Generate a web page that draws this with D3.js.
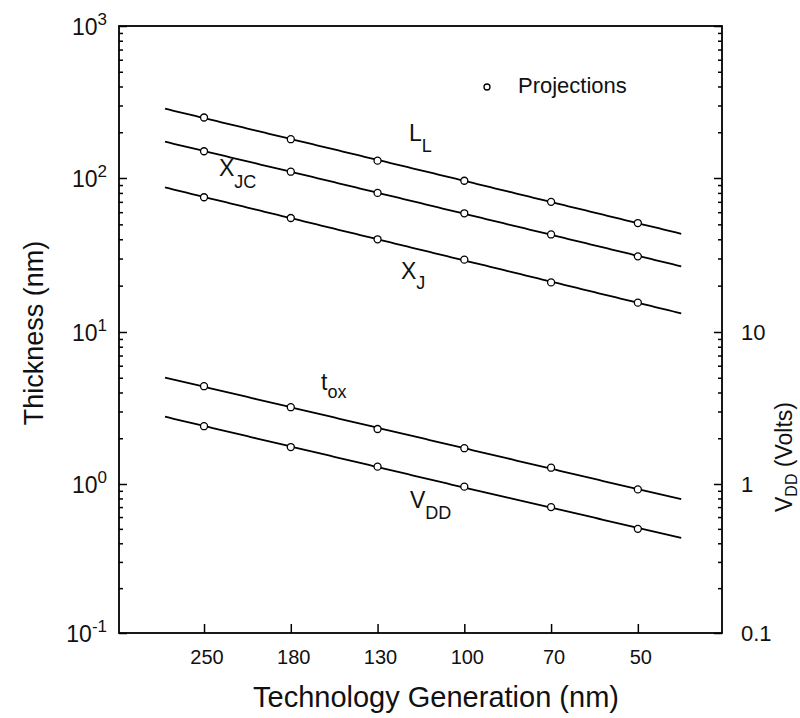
<!DOCTYPE html>
<html><head><meta charset="utf-8">
<script src="https://cdn.jsdelivr.net/npm/d3@7"></script>
<style>body{margin:0;background:#fff} svg{display:block;font-family:"Liberation Sans",Arial,sans-serif}</style>
</head><body><svg id="c" width="800" height="718"></svg>
<script>
// ---- data ----
const generations = ["250","180","130","100","70","50"];
const L_L  = [250,180,130,96,70,51];
const X_JC = [150,110,80,59,43,31];
const X_J  = [75,55,40,29.5,21,15.5];
const t_ox = [4.4,3.2,2.3,1.72,1.28,0.92];
const V_DD = [2.4,1.75,1.3,0.96,0.7,0.5];
const leftDecades = [0.1,1,10,100,1000];
const leftExponents = ["-1","0","1","2","3"];
const rightTickValues = [0.1,1,10];
const rightTickLabels = ["0.1","1","10"];
const legendLabel = "Projections";
const xTitle = "Technology Generation (nm)";
const yTitle = "Thickness (nm)";

// ---- layout ----
const svg = d3.select("#c");
const L=119, R=722, T=26, B=633;
const x = d3.scaleLinear().domain([-0.98,5.97]).range([L,R]);
const y = d3.scaleLog().domain(leftDecades).range([633,484,332,178,26]);

const allTicks = d3.scaleLog().domain([0.1,1000]).ticks();
const minor = allTicks.filter(v => !leftDecades.some(d => Math.abs(d - v) < 1e-9));

function ticks(g, axis){ g.call(axis); g.select(".domain").remove(); g.selectAll(".tick line").attr("stroke","#000").attr("stroke-width",1.5); }

// left axis
ticks(svg.append("g").attr("transform",`translate(${L},0)`), d3.axisLeft(y).tickValues(minor).tickSize(-4).tickFormat(""));
ticks(svg.append("g").attr("transform",`translate(${L},0)`), d3.axisLeft(y).tickValues(leftDecades).tickSize(-8).tickFormat(""));
// right axis
ticks(svg.append("g").attr("transform",`translate(${R},0)`), d3.axisRight(y).tickValues(minor).tickSize(-4).tickFormat(""));
ticks(svg.append("g").attr("transform",`translate(${R},0)`), d3.axisRight(y).tickValues(leftDecades).tickSize(-8).tickFormat(""));
// bottom axis
ticks(svg.append("g").attr("transform",`translate(0,${B})`), d3.axisBottom(x).tickValues(d3.range(generations.length)).tickSize(-9).tickFormat(""));

// frame
svg.append("rect").attr("x",L).attr("y",T).attr("width",R-L).attr("height",B-T)
  .attr("fill","none").attr("stroke","#000").attr("stroke-width",1.8);

// left tick labels
leftDecades.forEach((d,i)=>{
  const t = svg.append("text").attr("x",107).attr("y",y(d)+9).attr("text-anchor","end").attr("fill","#111");
  t.append("tspan").attr("font-size",23).text("10");
  t.append("tspan").attr("font-size",17).attr("dy",-10).text(leftExponents[i]);
});
// right tick labels
rightTickValues.forEach((d,i)=>{
  svg.append("text").attr("x",741).attr("y",y(d)+8).attr("font-size",22).attr("fill","#111").text(rightTickLabels[i]);
});
// bottom tick labels
generations.forEach((g,i)=>{
  svg.append("text").attr("x",x(i)+3).attr("y",664).attr("text-anchor","middle").attr("font-size",20).attr("fill","#111").text(g);
});

// titles
svg.append("text").attr("x",436).attr("y",707).attr("text-anchor","middle").attr("font-size",29).attr("fill","#111").text(xTitle);
svg.append("text").attr("transform","translate(43,333) rotate(-90)").attr("text-anchor","middle").attr("font-size",27).attr("fill","#111").text(yTitle);
const rt = svg.append("text").attr("transform","translate(792,512) rotate(-90)").attr("font-size",23).attr("fill","#111");
rt.append("tspan").text("V");
rt.append("tspan").attr("font-size",16).attr("dy",5).text("DD");
rt.append("tspan").attr("dy",-5).text(" (Volts)");

// series lines (log-linear fit) and points
function fit(vals){
  const xs = d3.range(vals.length), ys = vals.map(Math.log10);
  const mx = d3.mean(xs), my = d3.mean(ys);
  const b = d3.sum(xs,(xi,i)=>(xi-mx)*(ys[i]-my)) / d3.sum(xs,xi=>(xi-mx)**2);
  return t => Math.pow(10, my + b*(t-mx));
}
const line = d3.line().x(d=>x(d[0])).y(d=>y(d[1]));
[L_L, X_JC, X_J, t_ox, V_DD].forEach(vals=>{
  const f = fit(vals);
  const pts = d3.range(-0.45, 5.5001, 0.05).map(t=>[t, f(t)]);
  svg.append("path").attr("d",line(pts)).attr("fill","none").attr("stroke","#000").attr("stroke-width",1.8);
  svg.append("g").selectAll("circle").data(vals).join("circle")
    .attr("cx",(d,i)=>x(i)).attr("cy",d=>y(d)).attr("r",3.5)
    .attr("fill","#fff").attr("stroke","#000").attr("stroke-width",1.3);
});

// series labels
const labels = [
  {x:409, y:141, m:"L", s:"L", dy:11},
  {x:219, y:176, m:"X", s:"JC", dy:12},
  {x:401, y:279, m:"X", s:"J", dy:10},
  {x:321, y:390, m:"t", s:"ox", dy:8},
  {x:410, y:508, m:"V", s:"DD", dy:11}
];
labels.forEach(l=>{
  const t = svg.append("text").attr("x",l.x).attr("y",l.y).attr("font-size",23).attr("fill","#111");
  t.append("tspan").text(l.m);
  t.append("tspan").attr("font-size",18).attr("dy",l.dy).text(l.s);
});

// legend
svg.append("circle").attr("cx",487).attr("cy",87).attr("r",3).attr("fill","#fff").attr("stroke","#000").attr("stroke-width",1.3);
svg.append("text").attr("x",518).attr("y",93).attr("font-size",22).attr("fill","#111").text(legendLabel);
</script>
</body></html>
